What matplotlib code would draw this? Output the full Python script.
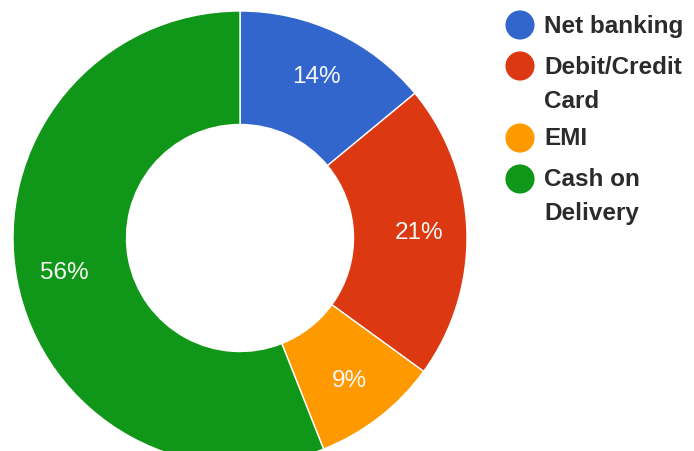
import numpy as np
import matplotlib.pyplot as plt

# payment mode split (percent)
modes = ['Net banking', 'Debit/Credit\nCard', 'EMI', 'Cash on\nDelivery']
shares = [14, 21, 9, 56]
colors = ['#3366CC', '#DC3912', '#FF9900', '#109618']

W, H = 694, 452
fig = plt.figure(figsize=(W / 100, H / 100), dpi=100)

# donut: centre (240, 238) px, outer radius 227 px
cx, cy, R = 240, 239, 227
ax = fig.add_axes([(cx - R) / W, (H - cy - R) / H, 2 * R / W, 2 * R / H])
wedges, texts, autotexts = ax.pie(
    shares, colors=colors, startangle=90, counterclock=False,
    radius=1, pctdistance=0.79,
    autopct=lambda p: f'{p:.0f}%',
    wedgeprops=dict(width=0.5, edgecolor='white', linewidth=1),
    textprops=dict(color='#f4f7f4', fontsize=17.5, family='Liberation Sans'))
ax.set_xlim(-1, 1)
ax.set_ylim(-1, 1)
ax.set_aspect('equal')
ax.axis('off')

# legend, drawn in pixel coordinates
lg = fig.add_axes([0, 0, 1, 1], zorder=-1)
lg.set_xlim(0, W)
lg.set_ylim(H, 0)
lg.axis('off')
rows = [26, 67, 139, 180]
line_gap = 34
for name, col, y in zip(modes, colors, rows):
    lg.scatter([520], [y], s=440, color=col, edgecolors='none')
    for i, part in enumerate(name.split('\n')):
        lg.text(544, y + i * line_gap, part, fontsize=17.5, fontweight='bold',
                color='#2b2b2b', va='center', ha='left', family='Liberation Sans')

fig.savefig('out.png', dpi=100)
